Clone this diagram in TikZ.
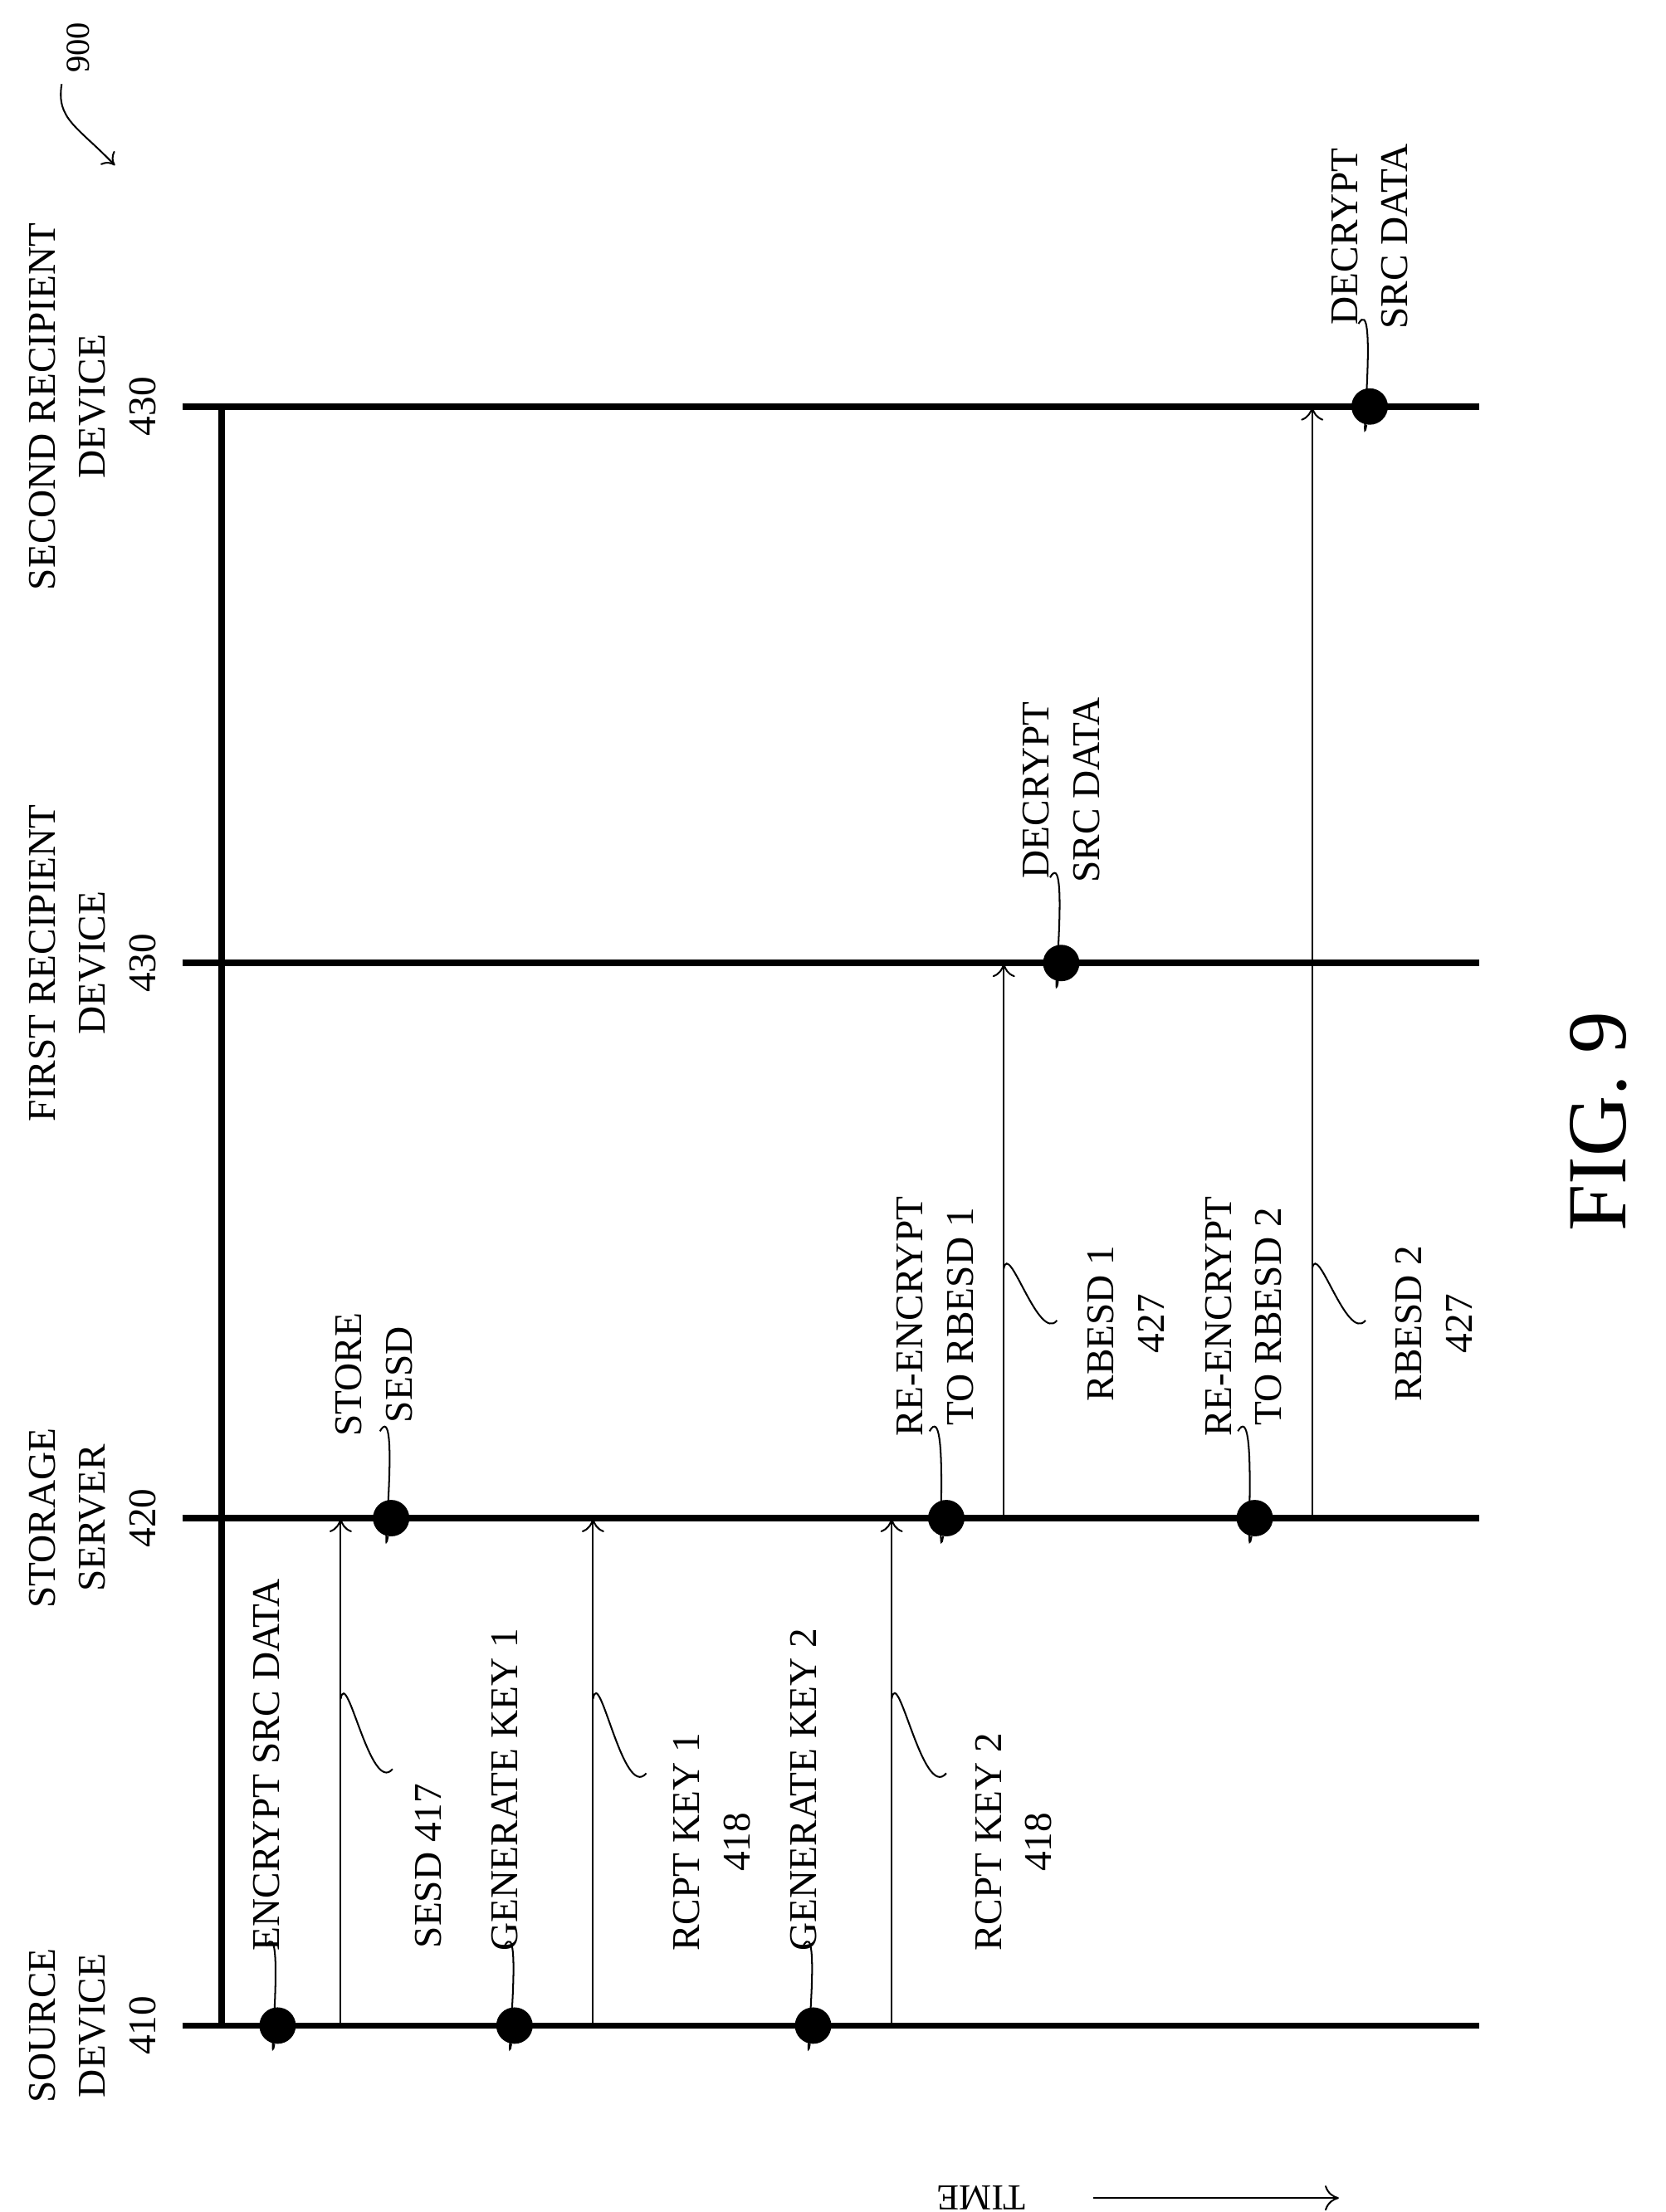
\documentclass[tikz,border=0pt]{standalone}
\usepackage{fontspec}
\setmainfont{Liberation Serif}
\usetikzlibrary{arrows.meta}
\begin{document}
\begin{tikzpicture}[x=1pt,y=-1pt,
  lbl/.style={rotate=90,font=\fontsize{28}{36}\selectfont,align=center,inner sep=0pt},
  life/.style={line width=4.5pt},
  msg/.style={line width=1.2pt,-{To[length=10pt,width=16pt]}},
  dotn/.style={circle,fill=black,minimum size=26pt,inner sep=0pt},
  lead/.style={line width=1.2pt}]
\useasboundingbox (0,0) rectangle (1188,1578);
% lifelines
\coordinate (s0) at (130,1445); \coordinate (s1) at (1055,1445);
\coordinate (t0) at (130,1083); \coordinate (t1) at (1055,1083);
\coordinate (f0) at (130,687);  \coordinate (f1) at (1055,687);
\coordinate (r0) at (130,290);  \coordinate (r1) at (1055,290);
\coordinate (b0) at (158,1445); \coordinate (b1) at (158,290);
\draw[life] (s0)--(s1); \draw[life] (t0)--(t1); \draw[life] (f0)--(f1); \draw[life] (r0)--(r1);
\draw[life] (b0)--(b1);
% lifeline labels
\node[lbl] (Ls) at (66,1445) {SOURCE\\DEVICE\\410};
\node[lbl] (Lt) at (66,1083) {STORAGE\\SERVER\\420};
\node[lbl] (Lf) at (66,687) {FIRST RECIPIENT\\DEVICE\\430};
\node[lbl] (Lr) at (66,290) {SECOND RECIPIENT\\DEVICE\\430};
% dots
\node[dotn] (d1) at (198,1445) {};
\node[dotn] (d2) at (367,1445) {};
\node[dotn] (d3) at (580,1445) {};
\node[dotn] (d4) at (279,1083) {};
\node[dotn] (d5) at (675,1083) {};
\node[dotn] (d6) at (895,1083) {};
\node[dotn] (d7) at (757,687) {};
\node[dotn] (d8) at (977,290) {};
% arrows
\foreach \x/\n in {243/a,423/b,636/c}{
  \coordinate (\n0) at (\x,1445); \coordinate (\n1) at (\x,1083);
  \draw[msg] (\n0)--(\n1);}
\coordinate (e0) at (716,1083); \coordinate (e1) at (716,687);
\draw[msg] (e0)--(e1);
\coordinate (g0) at (936,1083); \coordinate (g1) at (936,290);
\draw[msg] (g0)--(g1);
% event labels
\node[lbl,anchor=west] (ev1) at (190,1392) {ENCRYPT SRC DATA};
\node[lbl,anchor=west] (ev2) at (360,1392) {GENERATE KEY 1};
\node[lbl,anchor=west] (ev3) at (573,1392) {GENERATE KEY 2};
\node[lbl,anchor=west] (ev4) at (267,1025) {STORE\\SESD};
\node[lbl,anchor=west] (ev5) at (667,1025) {RE-ENCRYPT\\TO RBESD 1};
\node[lbl,anchor=west] (ev6) at (887,1025) {RE-ENCRYPT\\TO RBESD 2};
\node[lbl,anchor=west] (ev7) at (757,630) {DECRYPT\\SRC DATA};
\node[lbl,anchor=west] (ev8) at (977,235) {DECRYPT\\SRC DATA};
\draw[lead] (d1) to[out=-100,in=60] ([yshift=4pt]ev1.west);
\draw[lead] (d2) to[out=-100,in=60] ([yshift=4pt]ev2.west);
\draw[lead] (d3) to[out=-100,in=60] ([yshift=4pt]ev3.west);
\draw[lead] (d4) to[out=-100,in=60] ([xshift=4pt,yshift=4pt]ev4.west);
\draw[lead] (d5) to[out=-100,in=60] ([xshift=-4pt,yshift=4pt]ev5.west);
\draw[lead] (d6) to[out=-100,in=60] ([xshift=-4pt,yshift=4pt]ev6.west);
\draw[lead] (d7) to[out=-100,in=60] ([xshift=-8pt,yshift=4pt]ev7.west);
\draw[lead] (d8) to[out=-100,in=60] ([xshift=-8pt,yshift=4pt]ev8.west);
% message labels
\node[lbl,anchor=south west] (m1) at (315,1390) {SESD 417};
\node[lbl,anchor=west] (m2) at (508,1392) {RCPT KEY 1\\418};
\node[lbl,anchor=west] (m3) at (723,1392) {RCPT KEY 2\\418};
\node[lbl,anchor=west] (m4) at (803,1000) {RBESD 1\\427};
\node[lbl,anchor=west] (m5) at (1023,1000) {RBESD 2\\427};
\coordinate (q1) at (243,1212); \coordinate (q1e) at (280,1262);
\coordinate (q2) at (423,1212); \coordinate (q2e) at (461,1265);
\coordinate (q3) at (636,1212); \coordinate (q3e) at (675,1265);
\coordinate (q4) at (716,905);  \coordinate (q4e) at (754,942);
\coordinate (q5) at (936,905);  \coordinate (q5e) at (974,942);
\foreach \n in {q1,q2,q3,q4,q5}{\draw[lead] (\n) to[out=80,in=-130] (\n e);}
% figure number
\node[rotate=90,font=\fontsize{60}{70}\selectfont,inner sep=0pt] (fig) at (1140,800) {FIG. 9};
% time
\node[rotate=180,font=\fontsize{26}{30}\selectfont,inner sep=0pt] (time) at (700,1568) {TIME};
\coordinate (ta) at (780,1568); \coordinate (tb) at (955,1568);
\draw[line width=1.2pt,-{To[length=10pt,width=18pt]}] (ta)--(tb);
% 900
\node[rotate=90,font=\fontsize{24}{28}\selectfont,inner sep=0pt] (n900) at (56,34) {900};
\coordinate (u1) at (44,60); \coordinate (u2) at (82,118);
\draw[line width=1.2pt,-{To[length=8pt,width=14pt]}] (u1) .. controls (40,85) and (55,90) .. (u2);
\end{tikzpicture}
\end{document}
